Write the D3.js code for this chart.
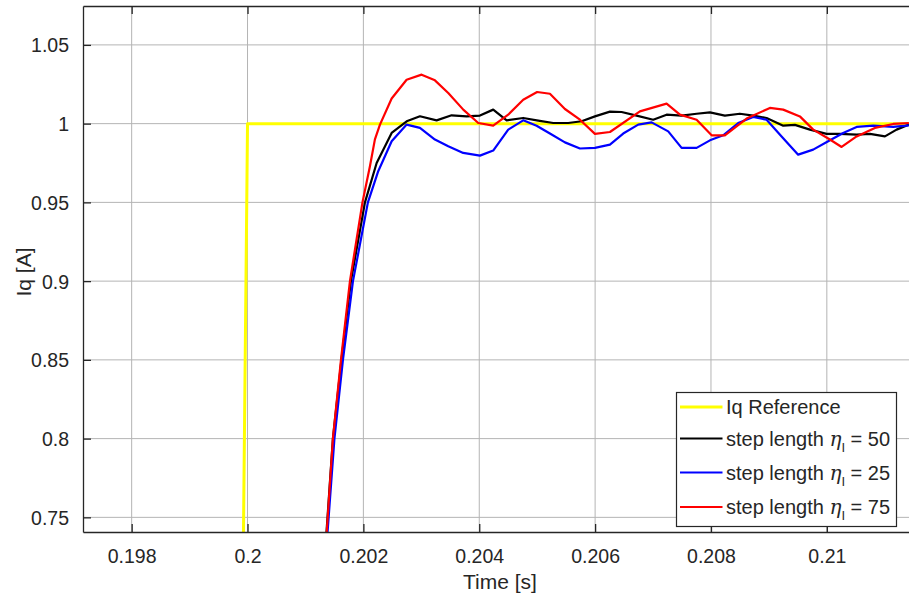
<!DOCTYPE html>
<html>
<head>
<meta charset="utf-8">
<script src="https://d3js.org/d3.v7.min.js"></script>
<style>
  body { margin: 0; background: #fff; font-family: "Liberation Sans", Arial, sans-serif; }
  svg text { fill: #262626; }
  .grid line { stroke: #b4b4b4; stroke-width: 1; }
</style>
</head>
<body>
<script>
// ---- data (time [s], Iq [A]) ----
var xTicks = [0.198, 0.2, 0.202, 0.204, 0.206, 0.208, 0.21];
var xTickLabels = ["0.198", "0.2", "0.202", "0.204", "0.206", "0.208", "0.21"];
var yTicks = [0.75, 0.8, 0.85, 0.9, 0.95, 1, 1.05];
var yTickLabels = ["0.75", "0.8", "0.85", "0.9", "0.95", "1", "1.05"];

var refT = [0.19973, 0.2, 0.2115];
var refV = [0, 1, 1];

var blackT = [0.201362, 0.201474, 0.201621, 0.201785, 0.202027, 0.202229, 0.202488, 0.202747, 0.202976,
  0.203264, 0.203523, 0.203782, 0.204012, 0.204241, 0.204473, 0.204759, 0.205018, 0.205277, 0.205536,
  0.205767, 0.205997, 0.206256, 0.206457, 0.206716, 0.207003, 0.207234, 0.207493, 0.207752, 0.207982,
  0.20824, 0.208499, 0.208729, 0.20896, 0.209247, 0.209449, 0.209708, 0.209996, 0.210225, 0.210514,
  0.210744, 0.211003, 0.211204, 0.211417];
var blackV = [0.74, 0.8, 0.85, 0.9, 0.95, 0.975, 0.9941, 1.0015, 1.0047,
  1.0021, 1.0053, 1.0046, 1.0051, 1.0089, 1.0021, 1.0036, 1.0019, 1.0004, 1.0004,
  1.0015, 1.0046, 1.0076, 1.0074, 1.0051, 1.0025, 1.0057, 1.0051, 1.0063, 1.0072,
  1.0051, 1.0063, 1.0051, 1.0036, 0.9987, 0.9992, 0.9962, 0.9935, 0.9935, 0.993,
  0.9935, 0.9919, 0.9962, 0.9994];

var blueT = [0.20138, 0.2015, 0.201647, 0.20182, 0.202078, 0.202256, 0.202488, 0.202747, 0.202976, 0.203235,
  0.203465, 0.203723, 0.204012, 0.204241, 0.2045, 0.204759, 0.20499, 0.20522, 0.205479, 0.205738,
  0.205997, 0.206256, 0.206485, 0.206744, 0.206975, 0.207262, 0.207493, 0.207752, 0.207982, 0.208211,
  0.20847, 0.208729, 0.20896, 0.209219, 0.209505, 0.209764, 0.210023, 0.210282, 0.210514, 0.2108,
  0.211145, 0.211416];
var blueV = [0.74, 0.8, 0.85, 0.9, 0.95, 0.9698, 0.9888, 0.9994, 0.9973, 0.9899,
  0.9856, 0.9814, 0.9797, 0.9829, 0.9962, 1.0021, 0.9987, 0.9937, 0.9881, 0.9842,
  0.9846, 0.9867, 0.9937, 0.9994, 1.0008, 0.9951, 0.9846, 0.9846, 0.9894, 0.9926,
  1.0004, 1.0042, 1.0025, 0.9919, 0.9803, 0.9835, 0.9888, 0.9941, 0.9979, 0.9987,
  0.9979, 0.9989];

var redT = [0.201366, 0.201474, 0.201613, 0.201768, 0.201984, 0.202113, 0.202199, 0.202286, 0.202488, 0.202746,
  0.203005, 0.203235, 0.203465, 0.203724, 0.203983, 0.204241, 0.2045, 0.204759, 0.204999, 0.20522,
  0.205479, 0.205738, 0.205997, 0.206256, 0.206773, 0.207234, 0.207464, 0.207752, 0.208011, 0.20824,
  0.208615, 0.209017, 0.209247, 0.209535, 0.209765, 0.210053, 0.210255, 0.210514, 0.210829, 0.211145,
  0.211416];
var redV = [0.74, 0.8, 0.85, 0.9, 0.95, 0.973, 0.99, 0.9994, 1.016, 1.0279,
  1.0311, 1.0275, 1.0195, 1.0089, 1.0004, 0.9987, 1.0057, 1.0152, 1.0201, 1.019,
  1.0093, 1.0025, 0.9935, 0.9947, 1.0078, 1.0127, 1.0057, 1.0025, 0.9926, 0.9926,
  1.0032, 1.01, 1.0089, 1.0046, 0.9962, 0.9899, 0.9852, 0.9919, 0.9973, 0.9998,
  1.0004];

var series = [
  { name: "Iq Reference", eta: null, color: "#ffff00", width: 3, t: refT, v: refV },
  { name: "step length ", eta: "50", color: "#000000", width: 2.2, t: blackT, v: blackV },
  { name: "step length ", eta: "25", color: "#0000ff", width: 2.2, t: blueT, v: blueV },
  { name: "step length ", eta: "75", color: "#ff0000", width: 2.2, t: redT, v: redV }
];

// ---- layout ----
var W = 909, H = 599;
var pL = 83, pT = 6, pR = 912, pB = 532;

var svg = d3.select("body").append("svg")
  .attr("width", W).attr("height", H);

var x = d3.scaleLinear().domain([0.19716, 0.21147]).range([pL, pR]);
var y = d3.scaleLinear().domain([0.7407, 1.0747]).range([pB, pT]);

// grid
var grid = svg.append("g").attr("class", "grid");
grid.selectAll("line.gx").data(xTicks).enter().append("line")
  .attr("x1", d => x(d)).attr("x2", d => x(d))
  .attr("y1", pT).attr("y2", pB);
grid.selectAll("line.gy").data(yTicks).enter().append("line")
  .attr("x1", pL).attr("x2", pR)
  .attr("y1", d => y(d)).attr("y2", d => y(d));

// lines
svg.append("clipPath").attr("id", "clip").append("rect")
  .attr("x", pL).attr("y", pT).attr("width", pR - pL).attr("height", pB - pT);

var line = d3.line().x(d => x(d[0])).y(d => y(d[1]));
svg.append("g").attr("clip-path", "url(#clip)")
  .selectAll("path").data(series).enter().append("path")
  .attr("d", s => line(s.t.map((t, i) => [t, s.v[i]])))
  .attr("fill", "none")
  .attr("stroke", s => s.color)
  .attr("stroke-width", s => s.width)
  .attr("stroke-linejoin", "round");

// axes
var axisColor = "#262626";
var xAxis = d3.axisBottom(x).tickValues(xTicks).tickFormat((d, i) => xTickLabels[i])
  .tickSizeInner(-8).tickSizeOuter(0).tickPadding(17);
var gx = svg.append("g").attr("transform", "translate(0," + pB + ")").call(xAxis);
var xTop = d3.axisTop(x).tickValues(xTicks).tickFormat("").tickSizeInner(-8).tickSizeOuter(0);
var gxt = svg.append("g").attr("transform", "translate(0," + pT + ")").call(xTop);
var yAxis = d3.axisLeft(y).tickValues(yTicks).tickFormat((d, i) => yTickLabels[i])
  .tickSizeInner(-8).tickSizeOuter(0).tickPadding(14);
var gy = svg.append("g").attr("transform", "translate(" + pL + ",0)").call(yAxis);

[gx, gxt, gy].forEach(g => {
  g.select(".domain").attr("stroke", axisColor).attr("stroke-width", 1.3);
  g.selectAll(".tick line").attr("stroke", axisColor).attr("stroke-width", 1.3);
  g.selectAll("text").attr("font-size", 19.5).attr("font-family", "Liberation Sans, Arial, sans-serif")
    .attr("fill", "#262626");
});
gx.selectAll("text").attr("dy", "0.71em");
gy.selectAll("text").attr("dy", "0.36em");

// axis labels
svg.append("text")
  .attr("x", 500).attr("y", 589)
  .attr("text-anchor", "middle").attr("font-size", 21)
  .text("Time [s]");
svg.append("text")
  .attr("transform", "translate(31,272) rotate(-90)")
  .attr("text-anchor", "middle").attr("font-size", 21)
  .text("Iq [A]");

// legend
var lg = svg.append("g");
lg.append("rect")
  .attr("x", 676.5).attr("y", 392.5).attr("width", 220).attr("height", 134)
  .attr("fill", "#fff").attr("stroke", axisColor).attr("stroke-width", 1.2);
var rowY = [407, 438.5, 472.5, 507];
series.forEach((s, i) => {
  var g = lg.append("g").attr("transform", "translate(0," + rowY[i] + ")");
  g.append("line").attr("x1", 680).attr("x2", 722.5).attr("y1", 0).attr("y2", 0)
    .attr("stroke", s.color).attr("stroke-width", s.width);
  var txt = g.append("text").attr("x", 726).attr("y", 0)
    .attr("font-size", 20);
  if (s.eta === null) {
    txt.attr("dy", "0.36em").text(s.name);
  } else {
    txt.append("tspan").attr("dy", 7).text(s.name);
    txt.append("tspan").attr("font-family", "DejaVu Serif, serif").attr("font-style", "italic")
      .text("\u03B7");
    txt.append("tspan").attr("font-size", 13).attr("dy", 6).text("I");
    txt.append("tspan").attr("dy", -6).text(" = " + s.eta);
  }
});
</script>
</body>
</html>
